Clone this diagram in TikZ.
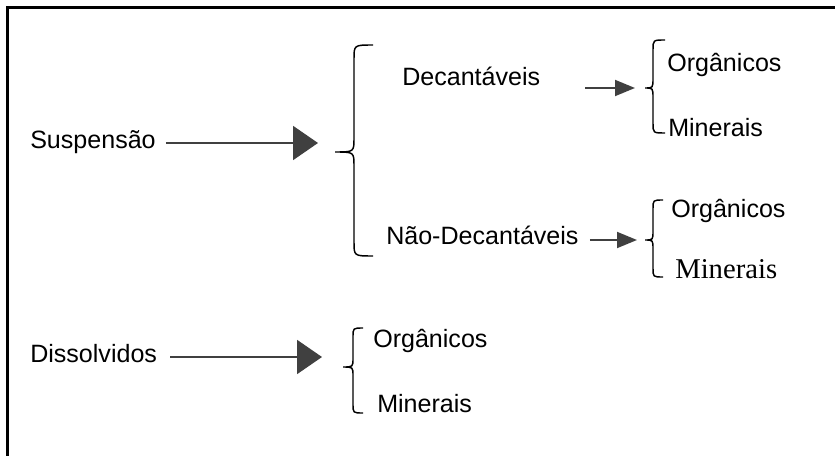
\documentclass[tikz,border=0pt]{standalone}
\usepackage{fontspec}
\setmainfont{Liberation Sans}
\newfontfamily\serifa{Liberation Serif}
\usetikzlibrary{arrows.meta,positioning}
\definecolor{cinza}{HTML}{404040}
\tikzstyle{texto} =[inner sep=0pt, anchor=base west, font=\fontsize{18.8}{21}\selectfont]
\tikzstyle{seta} =[draw=cinza, line width=1.5pt, -{Triangle[length=18.75pt,width=25.5pt]}, cinza]
\tikzstyle{setinha} =[draw=cinza, line width=1.4pt, -{Triangle[length=15pt,width=12pt]}, cinza]
\tikzstyle{chaveta} =[draw=black, line width=1.1pt]
% chave: ponta, vertical, extremo, topo, meio, base, raio
\newcommand{\chave}[7]{%
  \draw[chaveta] (#3,#4) .. controls (#2,#4) .. (#2,#4+#7) -- (#2,#5-#7)
    .. controls (#2,#5) .. (#1,#5) .. controls (#2,#5) .. (#2,#5+#7)
    -- (#2,#6-#7) .. controls (#2,#6) .. (#3,#6);}
\begin{document}
\begin{tikzpicture}[x=0.75pt, y=-0.75pt]
\useasboundingbox (0,0) rectangle (835,456);
\draw[line width=2.25pt] (7,470) -- (7,8) -- (850,8);

% primeiro nivel
\node[texto] (suspensao) at (30,149) {Suspensão};
\node[texto] (dissolvidos) at (30,362) {Dissolvidos};

% segundo nivel
\node[texto] (decantaveis) at (402,86) {Decantáveis};
\node[texto] (naodecant) at (386,244) {Não-Decantáveis};
\node[texto] (org3) at (373,347) {Orgânicos};
\node[texto] (min3) at (377,412) {Minerais};

% terceiro nivel
\node[texto] (org1) at (667,72) {Orgânicos};
\node[texto] (min1) at (668,137) {Minerais};
\node[texto] (org2) at (671,217) {Orgânicos};
\node[texto, font=\serifa\fontsize{21.5}{24}\selectfont] (min2) at (675,278) {Minerais};

% chaves
\chave{335}{354}{373}{45}{152}{256}{14}
\chave{645}{653}{665}{40}{88}{133}{10}
\chave{645}{653}{663}{200}{240}{277}{9}
\chave{343}{353}{363}{328}{367}{413}{9}

% setas
\coordinate (p1) at (318,143);
\coordinate (p2) at (635,88);
\coordinate (p3) at (637,240);
\coordinate (p4) at (322,357);
\draw[seta] (suspensao.east |- p1) ++(10,0) -- (p1);
\draw[setinha] (decantaveis.east |- p2) ++(45,0) -- (p2);
\draw[setinha] (naodecant.east |- p3) ++(11,0) -- (p3);
\draw[seta] (dissolvidos.east |- p4) ++(13,0) -- (p4);
\end{tikzpicture}
\end{document}
